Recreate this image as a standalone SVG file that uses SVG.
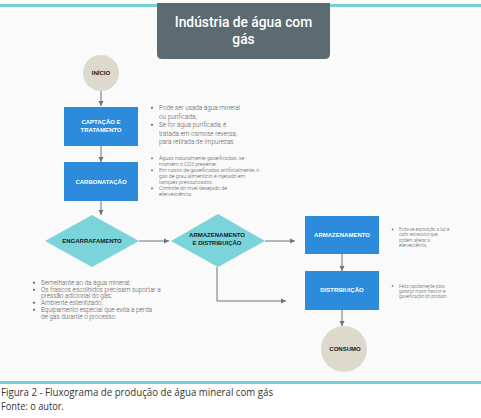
<svg xmlns="http://www.w3.org/2000/svg" width="481" height="418" viewBox="0 0 481 418">
<style>
.box{fill:#2d8bdc}
.dia{fill:#7ad4da}
.circ{fill:#ddd9cd}
.lbl{font-family:"Liberation Sans",Arial,sans-serif;font-weight:bold;font-size:6px;fill:#fff;text-anchor:middle}
.lbld{font-family:"Liberation Sans",Arial,sans-serif;font-weight:bold;font-size:6px;fill:#1a1a1a;text-anchor:middle}
.note{font-family:Roboto,"Liberation Sans",sans-serif;font-weight:300;fill:#555}
.n1{font-size:6.4px}
.n2{font-size:5.3px}
.n3{font-size:4.5px}
.bul{fill:#555}
.conn{stroke:#66767b;stroke-width:1;fill:none}
.cap{font-family:"Open Sans","Liberation Sans",sans-serif;font-size:10px;fill:#333}
.ttl{font-family:Roboto,"Liberation Sans",sans-serif;font-size:13.8px;font-weight:500;fill:#fff;text-anchor:middle}
</style>
<defs>
<marker id="ah" markerWidth="6" markerHeight="6" refX="5" refY="3" orient="auto" markerUnits="userSpaceOnUse">
<path d="M0,0.5 L5,3 L0,5.5 Z" fill="#66767b"/>
</marker>
</defs>
<rect x="0" y="0" width="481" height="382" fill="#fafafa"/>
<rect x="0" y="382" width="481" height="36" fill="#fff"/>
<rect x="0" y="4" width="481" height="3" fill="#76d1d7"/>
<rect x="0" y="381" width="481" height="3" fill="#76d1d7"/>

<g id="title">
<path d="M157,3 H330 V54 Q330,59 325,59 H162 Q157,59 157,54 Z" fill="#5b6b71"/>
<text class="ttl" x="243.5" y="27">Indústria de água com</text>
<text class="ttl" x="243.5" y="43.5">gás</text>
</g>

<g id="connectors">
<path class="conn" d="M101,91 V106" marker-end="url(#ah)"/>
<path class="conn" d="M101,146 V162" marker-end="url(#ah)"/>
<path class="conn" d="M101,201 V215" marker-end="url(#ah)"/>
<path class="conn" d="M139,241 H169" marker-end="url(#ah)"/>
<path class="conn" d="M265,241 H295" marker-end="url(#ah)"/>
<path class="conn" d="M217,267 V301 H286" marker-end="url(#ah)"/>
<path class="conn" d="M342,254 V271" marker-end="url(#ah)"/>
<path class="conn" d="M342,310 V326" marker-end="url(#ah)"/>
</g>

<g id="inicio">
<circle class="circ" cx="101" cy="73" r="18"/>
<text class="lbld" x="101" y="75">INÍCIO</text>
</g>

<g id="captacao">
<rect class="box" x="64" y="107" width="74" height="39"/>
<text class="lbl" x="101" y="124">CAPTAÇÃO E</text>
<text class="lbl" x="101" y="132">TRATAMENTO</text>
</g>

<g id="carbonatacao">
<rect class="box" x="64" y="162" width="74" height="39"/>
<text class="lbl" x="101" y="184">CARBONATAÇÃO</text>
</g>

<g id="engarrafamento">
<polygon class="dia" points="92,215 139,241 92,267 45,241"/>
<text class="lbld" x="92" y="243">ENGARRAFAMENTO</text>
</g>

<g id="armdist">
<polygon class="dia" points="218,214 265,241 218,267 171,241"/>
<text class="lbld" x="217" y="237">ARMAZENAMENTO</text>
<text class="lbld" x="217" y="245">E DISTRIBUIÇÃO</text>
</g>

<g id="armazenamento">
<rect class="box" x="305" y="216" width="74" height="38"/>
<text class="lbl" x="342" y="237">ARMAZENAMENTO</text>
</g>

<g id="distribuicao">
<rect class="box" x="305" y="271" width="74" height="39"/>
<text class="lbl" x="342" y="292">DISTRIBUIÇÃO</text>
</g>

<g id="consumo">
<circle class="circ" cx="344" cy="349" r="23"/>
<text class="lbld" x="345" y="351">CONSUMO</text>
</g>

<g id="note-captacao">
<circle class="bul" cx="152" cy="107.8" r="1"/>
<circle class="bul" cx="152" cy="124.8" r="1"/>
<text class="note n1" x="159" y="110">Pode ser usada água mineral</text>
<text class="note n1" x="159" y="118.5">ou purificada;</text>
<text class="note n1" x="159" y="127">Se for água purificada, é</text>
<text class="note n1" x="159" y="135.5">tratada em osmose reversa,</text>
<text class="note n1" x="159" y="144">para retirada de impurezas</text>
</g>

<g id="note-carbonatacao">
<circle class="bul" cx="152" cy="158.3" r="0.9"/>
<circle class="bul" cx="152" cy="170.3" r="0.9"/>
<circle class="bul" cx="152" cy="188.3" r="0.9"/>
<text class="note n2" x="159" y="160">Águas naturalmente gaseificadas, se</text>
<text class="note n2" x="159" y="166">mantém o CO2 presente;</text>
<text class="note n2" x="159" y="172">Em casos de gaseificadas artificialmente, o</text>
<text class="note n2" x="159" y="178">gás de grau alimentício é injetado em</text>
<text class="note n2" x="159" y="184">tanques pressurizados.</text>
<text class="note n2" x="159" y="190">Controle do nível desejado de</text>
<text class="note n2" x="159" y="196">efervescência.</text>
</g>

<g id="note-engarrafamento">
<circle class="bul" cx="34" cy="282.8" r="1"/>
<circle class="bul" cx="34" cy="289.8" r="1"/>
<circle class="bul" cx="34" cy="302.8" r="1"/>
<circle class="bul" cx="34" cy="309.8" r="1"/>
<text class="note n1" x="41" y="285">Semelhante ao da água mineral;</text>
<text class="note n1" x="41" y="291.7">Os frascos escolhidos precisam suportar a</text>
<text class="note n1" x="41" y="298.4">pressão adicional do gás;</text>
<text class="note n1" x="41" y="305">Ambiente esterilizado;</text>
<text class="note n1" x="41" y="311.8">Equipamento especial que evita a perda</text>
<text class="note n1" x="41" y="318.5">de gás durante o processo.</text>
</g>

<g id="note-armazenamento">
<circle class="bul" cx="392.5" cy="229.5" r="0.8"/>
<text class="note n3" x="399" y="231">Evita-se exposição a luz e</text>
<text class="note n3" x="399" y="236.4">calor excessivo que</text>
<text class="note n3" x="399" y="241.8">podem alterar a</text>
<text class="note n3" x="399" y="247.2">efervescência.</text>
</g>

<g id="note-distribuicao">
<circle class="bul" cx="392.5" cy="286" r="0.8"/>
<text class="note n3" x="399" y="287.5">Feita rapidamente para</text>
<text class="note n3" x="399" y="292.9">garantir maior frescor e</text>
<text class="note n3" x="399" y="298.3">gaseificação do produto</text>
</g>

<g id="caption">
<text class="cap" x="1" y="396" textLength="272" lengthAdjust="spacingAndGlyphs">Figura 2 - Fluxograma de produção de água mineral com gás</text>
<text class="cap" x="1" y="410" textLength="63" lengthAdjust="spacingAndGlyphs">Fonte: o autor.</text>
</g>
</svg>
